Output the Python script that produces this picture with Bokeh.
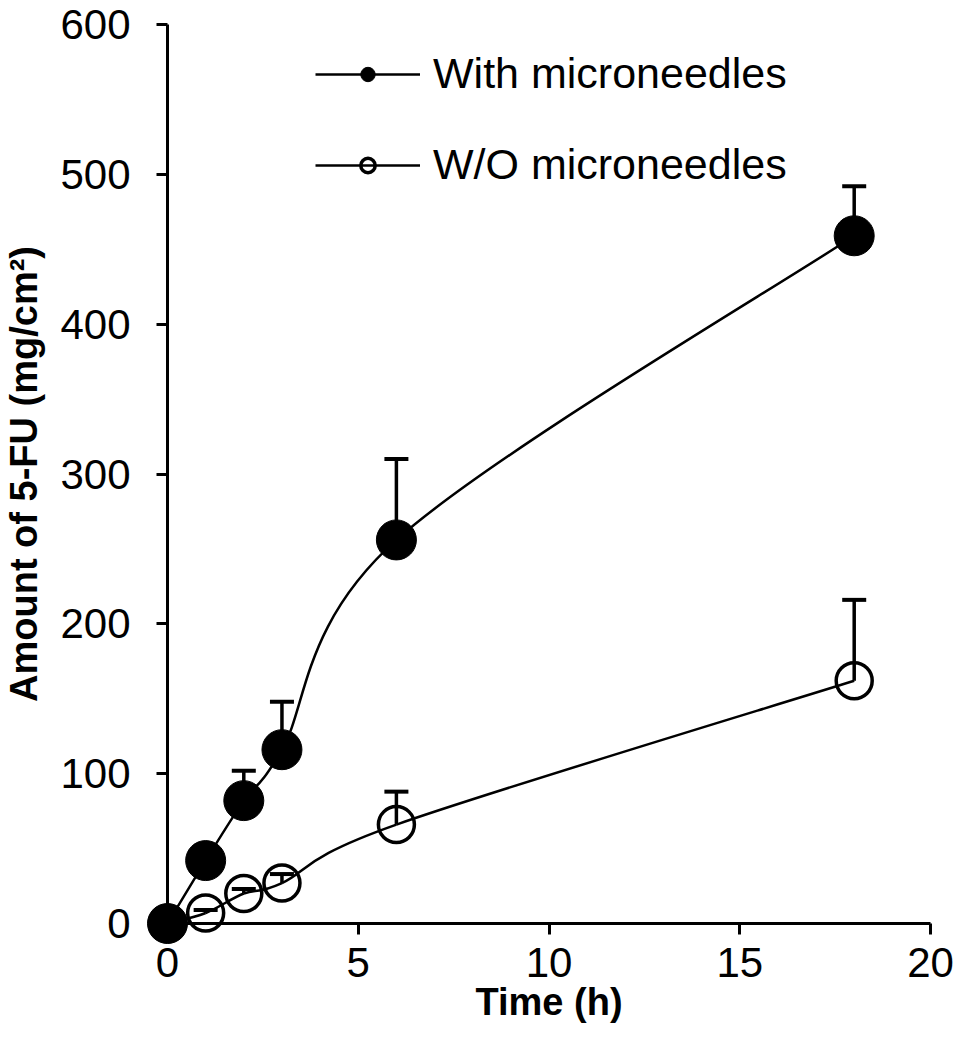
from bokeh.plotting import figure
from bokeh.models import Whisker, TeeHead, ColumnDataSource, Legend, LegendItem, Range1d
from bokeh.embed import file_html
from bokeh.resources import INLINE

time_h = [0, 1, 2, 3, 6, 18]
with_mn = [0, 42, 82, 116, 256, 459]
with_err = [0, 8, 20, 32, 54, 33]
wo_mn = [0, 7, 20, 27, 66, 162]
wo_err = [0, 2, 3, 6, 22, 54]

x_ticks = [0, 5, 10, 15, 20]
y_ticks = [0, 100, 200, 300, 400, 500, 600]

FONT = "Liberation Sans"
PX_X = 38.15      # pixels per hour
PX_Y = 1.4983     # pixels per unit of amount
X0_PIX, Y0_PIX = 167, 923          # where the origin sits on the canvas
FL, FT, FW, FH = 0, 0, 958, 1036   # frame left, top, width, height

XR = (-(X0_PIX - FL) / PX_X, (FL + FW - X0_PIX) / PX_X)
YR = (-(FT + FH - Y0_PIX) / PX_Y, (Y0_PIX - FT) / PX_Y)

p = figure(output_backend="svg", toolbar_location=None,
           x_range=Range1d(*XR), y_range=Range1d(*YR),
           frame_width=FW, frame_height=FH,
           min_border_left=FL, min_border_top=FT, min_border_right=0, min_border_bottom=0)
p.outline_line_color = None
p.background_fill_color = "white"
p.border_fill_color = "white"
p.grid.visible = False

for ax in (p.xaxis[0], p.yaxis[0]):
    ax.axis_line_width = 3
    ax.axis_line_color = "black"
    ax.major_tick_line_width = 3
    ax.major_tick_line_color = "black"
    ax.major_tick_in = 0
    ax.major_tick_out = 11
    ax.minor_tick_line_color = None
    ax.major_label_text_font = FONT
    ax.major_label_text_font_size = "42px"
    ax.major_label_text_color = "black"
    ax.axis_label_text_font = FONT
    ax.axis_label_text_font_size = "38px"
    ax.axis_label_text_font_style = "bold"
    ax.axis_label_text_color = "black"

p.xaxis.fixed_location = 0
p.yaxis.fixed_location = 0
p.xaxis.bounds = (0, 20)
p.yaxis.bounds = (0, 600)
p.xaxis.ticker = x_ticks
p.yaxis.ticker = y_ticks
p.xaxis.axis_label = "Time (h)"
p.yaxis.axis_label = "Amount of 5-FU (mg/cm²)"
p.xaxis.major_label_standoff = 13
p.yaxis.major_label_standoff = 26
p.xaxis.axis_label_standoff = 1
p.yaxis.axis_label_standoff = 12


def smooth(xs, ys):
    n = len(xs)
    d = dict(x0=[], y0=[], x1=[], y1=[], cx0=[], cy0=[], cx1=[], cy1=[])
    for i in range(n - 1):
        a = max(i - 1, 0)
        b = min(i + 2, n - 1)
        d["x0"].append(xs[i]); d["y0"].append(ys[i])
        d["x1"].append(xs[i + 1]); d["y1"].append(ys[i + 1])
        d["cx0"].append(xs[i] + (xs[i + 1] - xs[a]) / 6)
        d["cy0"].append(ys[i] + (ys[i + 1] - ys[a]) / 6)
        d["cx1"].append(xs[i + 1] - (xs[b] - xs[i]) / 6)
        d["cy1"].append(ys[i + 1] - (ys[b] - ys[i]) / 6)
    return ColumnDataSource(d)


def upper(vals, errs):
    return [v + e for v, e in zip(vals, errs)]


# W/O microneedles (open)
p.bezier(x0="x0", y0="y0", x1="x1", y1="y1", cx0="cx0", cy0="cy0", cx1="cx1", cy1="cy1",
         source=smooth(time_h, wo_mn), line_color="black", line_width=2.5)
src_wo = ColumnDataSource(dict(x=time_h, y=wo_mn, up=upper(wo_mn, wo_err)))
p.add_layout(Whisker(base="x", lower="y", upper="up", source=src_wo, dimension="height",
                     line_width=3.5, line_color="black",
                     upper_head=TeeHead(size=24, line_width=4, line_color="black"),
                     lower_head=None))
r_wo = p.scatter(x="x", y="y", source=src_wo, size=36, marker="circle",
                 fill_alpha=0, line_color="black", line_width=3.5)

# With microneedles (filled)
p.bezier(x0="x0", y0="y0", x1="x1", y1="y1", cx0="cx0", cy0="cy0", cx1="cx1", cy1="cy1",
         source=smooth(time_h, with_mn), line_color="black", line_width=2.5)
src_w = ColumnDataSource(dict(x=time_h, y=with_mn, up=upper(with_mn, with_err)))
p.add_layout(Whisker(base="x", lower="y", upper="up", source=src_w, dimension="height",
                     line_width=3.5, line_color="black",
                     upper_head=TeeHead(size=24, line_width=4, line_color="black"),
                     lower_head=None))
r_w = p.scatter(x="x", y="y", source=src_w, size=40, marker="circle",
                fill_color="black", line_color="black", line_width=1)

# legend-only line renderers (no visible data)
nan = float("nan")
lw = p.line(x=[nan], y=[nan], line_color="black", line_width=2.5)
lwo = p.line(x=[nan], y=[nan], line_color="black", line_width=2.5)

legend = Legend(items=[LegendItem(label="With microneedles", renderers=[lw, r_w]),
                       LegendItem(label="W/O microneedles", renderers=[lwo, r_wo])],
                location=(315, 847), orientation="vertical",
                background_fill_alpha=0, border_line_alpha=0,
                padding=0, margin=0, spacing=42,
                glyph_width=105, glyph_height=36, label_standoff=13,
                label_text_font=FONT, label_text_font_size="43px", label_text_color="black")
p.add_layout(legend, "center")

open("out.html", "w").write(file_html(p, INLINE))
